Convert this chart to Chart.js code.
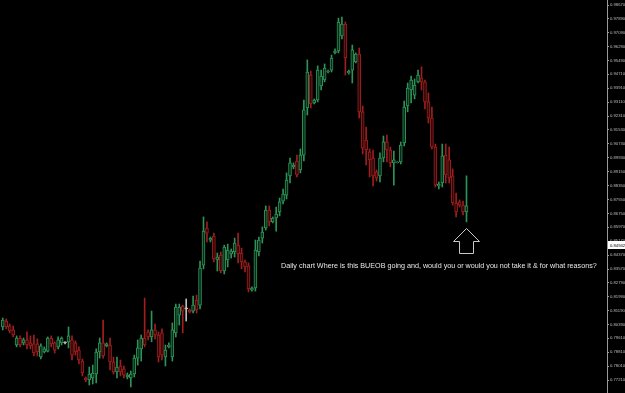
<!DOCTYPE html>
<html>
<head>
<meta charset="utf-8">
<script src="https://cdn.jsdelivr.net/npm/chart.js@4.4.1/dist/chart.umd.min.js"></script>
<style>
  html, body { margin: 0; padding: 0; background: #000; }
  #wrap { width: 625px; height: 393px; }
</style>
</head>
<body>
<div id="wrap"><canvas id="c" width="625" height="393"></canvas></div>
<script>
// Daily bars (index 0 = oldest)
const highs = [0.8077,0.8072,0.8043,0.8032,0.7975,0.7975,0.7963,0.7998,0.7975,0.7980,
0.7958,0.7929,0.7912,0.7969,0.7975,0.7941,0.7969,0.7969,0.7941,0.8026,
0.7975,0.7946,0.7912,0.7843,0.7740,0.7797,0.7808,0.7901,0.7963,0.8066,
0.7935,0.7963,0.7854,0.7854,0.7837,0.7803,0.7763,0.7774,0.7865,0.7952,
0.7980,0.8191,0.8009,0.8117,0.8043,0.7998,0.8015,0.7923,0.7935,0.8049,
0.8157,0.8157,0.8151,0.8186,0.8129,0.8203,0.8208,0.8403,0.8655,0.8627,
0.8540,0.8563,0.8449,0.8455,0.8494,0.8500,0.8472,0.8534,0.8563,0.8477,
0.8409,0.8392,0.8255,0.8523,0.8540,0.8598,0.8718,0.8718,0.8655,0.8712,
0.8763,0.8815,0.8907,0.8992,0.8964,0.9009,0.9044,0.9324,0.9553,0.9489,
0.9330,0.9519,0.9495,0.9530,0.9495,0.9581,0.9616,0.9792,0.9798,0.9770,
0.9495,0.9638,0.9593,0.9621,0.9290,0.9169,0.9044,0.9038,0.8924,0.9021,
0.9118,0.9123,0.9055,0.9032,0.8970,0.9084,0.9318,0.9421,0.9461,0.9444,
0.9495,0.9513,0.9438,0.9364,0.9284,0.9072,0.8855,0.9072,0.9072,0.9055,
0.8930,0.8792,0.8752,0.8746,0.8890];
const lows = [0.8009,0.8015,0.7992,0.7969,0.7912,0.7912,0.7923,0.7901,0.7901,0.7860,
0.7860,0.7843,0.7877,0.7883,0.7912,0.7877,0.7901,0.7923,0.7929,0.7906,
0.7837,0.7865,0.7814,0.7746,0.7712,0.7694,0.7700,0.7706,0.7848,0.7848,
0.7912,0.7780,0.7757,0.7734,0.7746,0.7734,0.7729,0.7683,0.7740,0.7808,
0.7831,0.7912,0.7952,0.7941,0.7958,0.7826,0.7837,0.7803,0.7906,0.7831,
0.7969,0.8037,0.7992,0.8060,0.8106,0.8106,0.8106,0.8129,0.8358,0.8512,
0.8512,0.8398,0.8346,0.8335,0.8329,0.8369,0.8420,0.8426,0.8392,0.8358,
0.8341,0.8226,0.8231,0.8231,0.8432,0.8506,0.8580,0.8604,0.8621,0.8574,
0.8661,0.8729,0.8758,0.8849,0.8930,0.8884,0.8907,0.8975,0.9238,0.9278,
0.9301,0.9313,0.9381,0.9427,0.9478,0.9484,0.9587,0.9593,0.9673,0.9466,
0.9472,0.9421,0.9536,0.9221,0.9015,0.8952,0.8884,0.8832,0.8860,0.8855,
0.8970,0.8970,0.8941,0.8837,0.8964,0.8958,0.9061,0.9256,0.9307,0.9330,
0.9421,0.9381,0.9273,0.9192,0.9044,0.8826,0.8815,0.8826,0.8849,0.8849,
0.8723,0.8655,0.8712,0.8666,0.8627];
const opens = [0.8026,0.8060,0.8032,0.8009,0.7923,0.7963,0.7935,0.7952,0.7935,0.7929,
0.7929,0.7854,0.7883,0.7888,0.7963,0.7935,0.7912,0.7935,0.7935,0.7941,
0.7952,0.7935,0.7894,0.7831,0.7734,0.7723,0.7734,0.7757,0.7883,0.7935,
0.7918,0.7923,0.7826,0.7769,0.7803,0.7786,0.7740,0.7734,0.7757,0.7848,
0.7901,0.7963,0.7998,0.7969,0.8009,0.7980,0.7992,0.7854,0.7912,0.7854,
0.7992,0.8094,0.8146,0.8129,0.8123,0.8117,0.8180,0.8151,0.8380,0.8592,
0.8523,0.8546,0.8409,0.8437,0.8346,0.8409,0.8443,0.8455,0.8494,0.8449,
0.8398,0.8375,0.8237,0.8249,0.8455,0.8534,0.8592,0.8695,0.8627,0.8649,
0.8684,0.8746,0.8780,0.8890,0.8941,0.8975,0.8924,0.9009,0.9278,0.9466,
0.9307,0.9324,0.9404,0.9438,0.9484,0.9495,0.9593,0.9604,0.9690,0.9758,
0.9478,0.9495,0.9542,0.9587,0.9256,0.9095,0.9027,0.8992,0.8913,0.8890,
0.8992,0.9084,0.9038,0.8964,0.8964,0.8970,0.9078,0.9290,0.9381,0.9352,
0.9427,0.9449,0.9427,0.9313,0.9221,0.9055,0.8832,0.8849,0.9009,0.8981,
0.8890,0.8735,0.8741,0.8723,0.8684];
const closes = [0.8066,0.8026,0.8003,0.7980,0.7963,0.7923,0.7952,0.7923,0.7918,0.7877,
0.7883,0.7918,0.7901,0.7963,0.7929,0.7894,0.7952,0.7963,0.7935,0.7975,
0.7865,0.7883,0.7837,0.7763,0.7723,0.7757,0.7763,0.7883,0.7935,0.7860,
0.7929,0.7826,0.7769,0.7797,0.7769,0.7751,0.7751,0.7757,0.7848,0.7906,
0.7963,0.7923,0.7969,0.8009,0.7980,0.7854,0.7865,0.7894,0.7923,0.8009,
0.8140,0.8140,0.8117,0.8129,0.8112,0.8151,0.8123,0.8363,0.8574,0.8563,
0.8534,0.8415,0.8426,0.8346,0.8483,0.8466,0.8460,0.8506,0.8443,0.8398,
0.8369,0.8244,0.8249,0.8466,0.8523,0.8569,0.8695,0.8627,0.8649,0.8672,
0.8741,0.8786,0.8866,0.8964,0.8952,0.8895,0.9009,0.9267,0.9484,0.9301,
0.9324,0.9495,0.9461,0.9507,0.9489,0.9564,0.9604,0.9770,0.9758,0.9564,
0.9489,0.9610,0.9587,0.9256,0.9049,0.9038,0.8981,0.8890,0.8878,0.8992,
0.9084,0.9038,0.8964,0.8981,0.8970,0.9066,0.9284,0.9392,0.9438,0.9409,
0.9466,0.9427,0.9313,0.9221,0.9055,0.8837,0.8843,0.9004,0.8895,0.8878,
0.8735,0.8684,0.8723,0.8684,0.8718];

const yTickLabels = [0.98670,0.97890,0.97090,0.96290,0.95490,0.94710,0.93910,0.93110,0.92310,0.91530,
0.90730,0.89930,0.89150,0.88350,0.87550,0.86750,0.85970,0.85170,0.84370,0.83570,
0.82790,0.81990,0.81190,0.80390,0.79610,0.78810,0.78010,0.77210];
const currentPrice = 0.84942;
const noteText = "Daily chart Where is this BUEOB going and, would you or would you not take it & for what reasons?";

const GREEN = '#2c9457', RED = '#a11e1e', DOJI = '#bdbdbd';
const GREEN_FILL = '#0c2a1a', RED_FILL = '#2e0909';
const colorOf = i => closes[i] > opens[i] ? GREEN : (closes[i] < opens[i] ? RED : DOJI);
const fillOf = i => closes[i] > opens[i] ? GREEN_FILL : (closes[i] < opens[i] ? RED_FILL : DOJI);

const wickData = highs.map((h, i) => ({ x: i, y: [lows[i], h] }));
const bodyData = opens.map((o, i) => ({ x: i, y: [o, closes[i]] }));

const bgPlugin = {
  id: 'bg',
  beforeDraw(chart) {
    const ctx = chart.ctx;
    ctx.save();
    ctx.fillStyle = '#000';
    ctx.fillRect(0, 0, chart.width, chart.height);
    ctx.restore();
  }
};

const overlayPlugin = {
  id: 'overlay',
  afterDraw(chart) {
    const ctx = chart.ctx;
    const xs = chart.scales.x, ys = chart.scales.y;
    ctx.save();
    // current price box
    const py = Math.round(ys.getPixelForValue(currentPrice));
    ctx.fillStyle = '#ffffff';
    ctx.fillRect(ys.left + 1, py - 4, chart.width - ys.left - 1, 8);
    ctx.fillStyle = '#000';
    ctx.font = '4.2px "Liberation Sans"';
    ctx.textBaseline = 'middle';
    ctx.textAlign = 'left';
    ctx.fillText(currentPrice.toFixed(5), ys.left + 3, py + 0.5);

    // arrow under the last bar
    const last = highs.length - 1;
    const cx = Math.round(xs.getPixelForValue(last)) + 0.5;
    const top = Math.round(ys.getPixelForValue(lows[last])) + 6.5;
    ctx.strokeStyle = '#c8c8c8';
    ctx.lineWidth = 1;
    ctx.beginPath();
    ctx.moveTo(cx, top);
    ctx.lineTo(cx + 13, top + 13);
    ctx.lineTo(cx + 7, top + 13);
    ctx.lineTo(cx + 7, top + 25);
    ctx.lineTo(cx - 7, top + 25);
    ctx.lineTo(cx - 7, top + 13);
    ctx.lineTo(cx - 13, top + 13);
    ctx.closePath();
    ctx.stroke();

    // note text
    ctx.fillStyle = '#e6e6e6';
    ctx.font = '7px "Liberation Sans"';
    const w = ctx.measureText(noteText).width;
    const size = 7 * 316 / w;
    ctx.font = size.toFixed(2) + 'px "Liberation Sans"';
    ctx.textBaseline = 'alphabetic';
    ctx.fillText(noteText, 281, 268);
    ctx.restore();
  }
};

new Chart(document.getElementById('c'), {
  type: 'bar',
  data: {
    datasets: [
      {
        label: 'body',
        data: bodyData,
        order: 0,
        grouped: false,
        barThickness: 3,
        minBarLength: 1,
        borderWidth: 1,
        borderSkipped: false,
        backgroundColor: c => fillOf(c.dataIndex),
        borderColor: c => colorOf(c.dataIndex)
      },
      {
        label: 'range',
        data: wickData,
        order: 1,
        grouped: false,
        barThickness: 1,
        borderWidth: 0,
        backgroundColor: c => colorOf(c.dataIndex)
      }
    ]
  },
  options: {
    responsive: false,
    animation: false,
    events: [],
    layout: { padding: 0 },
    plugins: { legend: { display: false }, tooltip: { enabled: false } },
    scales: {
      x: {
        type: 'linear',
        display: false,
        min: -0.8,
        max: 174.6,
        offset: false
      },
      y: {
        position: 'right',
        min: 0.76484,
        max: 0.98956,
        afterBuildTicks: s => { s.ticks = yTickLabels.map(v => ({ value: v })); },
        afterFit: s => { s.width = 18; s.paddingTop = 0; s.paddingBottom = 0; },
        border: { display: true, color: '#9a9a9a', width: 1 },
        grid: { drawOnChartArea: false, drawTicks: true, tickLength: 2, color: '#9a9a9a' },
        ticks: {
          padding: 1,
          color: '#bdbdbd',
          font: { family: 'Liberation Sans', size: 4.2 },
          autoSkip: false,
          callback: v => Number(v).toFixed(5)
        }
      }
    }
  },
  plugins: [bgPlugin, overlayPlugin]
});
</script>
</body>
</html>
